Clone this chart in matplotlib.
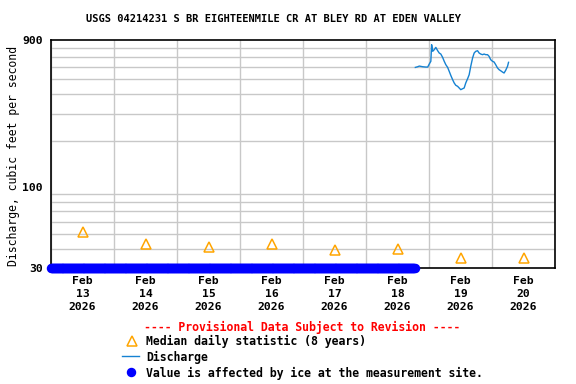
import numpy as np
import pandas as pd
import matplotlib
matplotlib.use("Agg")
import matplotlib.pyplot as plt
import matplotlib.dates as mdates
from matplotlib.lines import Line2D
from matplotlib.ticker import FixedLocator, NullFormatter

# ---- data ----
title = "USGS 04214231 S BR EIGHTEENMILE CR AT BLEY RD AT EDEN VALLEY"

# daily median statistic (8 years), plotted at noon of each day
median_days = ["2026-02-13", "2026-02-14", "2026-02-15", "2026-02-16",
               "2026-02-17", "2026-02-18", "2026-02-19", "2026-02-20"]
median_vals = [51, 43, 41, 43, 39.5, 40, 35, 35]

# discharge (cfs), hours after 2026-02-18 00:00
q_hours = [18.8, 19.7, 20.3, 21.6, 22.8, 23.5, 24.1, 24.7, 25.0, 25.4, 26.0,
           26.6, 27.3, 27.9, 28.5, 29.2, 29.8, 30.4, 31.1, 31.7, 32.3, 33.0,
           33.6, 34.2, 34.9, 35.5, 36.1, 36.8, 37.4, 38.0, 38.7, 39.3, 39.9,
           40.6, 41.2, 41.8, 42.5, 43.1, 43.7, 44.4, 45.0, 45.6, 46.3, 46.9,
           47.5, 48.2, 48.8, 49.4, 50.1, 50.7, 51.3, 52.0, 52.6, 53.2, 53.9,
           54.3]
q_vals = [598, 604, 610, 604, 601, 601, 629, 655, 839, 760, 779,
          806, 767, 741, 730, 694, 655, 623, 598, 564, 531, 498,
          474, 458, 451, 440, 429, 435, 440, 474, 505, 536, 607,
          688, 741, 760, 767, 741, 730, 723, 730, 723, 723, 705,
          671, 655, 648, 623, 593, 578, 569, 558, 550, 572, 607,
          645]

# ice-affected period (15-minute values shown on the axis floor)
ice_start = "2026-02-13 00:00"
ice_end = "2026-02-18 18:30"

ylim = (30, 900)
y_labels = [30, 100, 900]
y_grid = [40, 50, 60, 70, 80, 90, 100, 200, 300, 400, 500, 600, 700, 800]

# ---- plotting ----
FONT = "DejaVu Sans Mono"
plt.rcParams["font.family"] = FONT
plt.rcParams["font.weight"] = "bold"

W, H = 576, 384
fig = plt.figure(figsize=(W / 100, H / 100), dpi=100)
ax = fig.add_axes([51 / W, 1 - 268 / H, (555 - 51) / W, (268 - 40) / H])

base = pd.Timestamp("2026-02-18")
q_time = [base + pd.Timedelta(hours=h) for h in q_hours]
ax.plot(q_time, q_vals, color="#1582D2", lw=1.0, zorder=3)

med_time = [pd.Timestamp(d) + pd.Timedelta(hours=12) for d in median_days]
ax.plot(med_time, median_vals, linestyle="none", marker="^", ms=7.5,
        mfc="none", mec="#FFA500", mew=1.1, zorder=3)

ice_time = pd.date_range(ice_start, ice_end, freq="15min")
ax.plot(ice_time, [ylim[0]] * len(ice_time), linestyle="none", marker="o",
        ms=5.8, color="#0000FF", clip_on=False, zorder=4)

ax.set_yscale("log")
ax.set_ylim(*ylim)
ax.set_xlim(pd.Timestamp("2026-02-13"), pd.Timestamp("2026-02-21"))

ax.yaxis.set_major_locator(FixedLocator(y_labels))
ax.yaxis.set_minor_locator(FixedLocator(y_grid))
ax.yaxis.set_major_formatter(matplotlib.ticker.FuncFormatter(lambda v, p: f"{v:g}"))
ax.yaxis.set_minor_formatter(NullFormatter())

ax.xaxis.set_major_locator(FixedLocator(mdates.date2num(med_time)))
ax.xaxis.set_major_formatter(matplotlib.ticker.FuncFormatter(
    lambda v, p: mdates.num2date(v).strftime("%b\n%d\n%Y")))
ax.xaxis.set_minor_locator(mdates.DayLocator())

ax.grid(True, which="minor", color="#C8C8C8", lw=1.0)
ax.grid(False, which="major")
ax.tick_params(axis="both", which="both", length=0)
ax.tick_params(axis="x", pad=6, labelsize=8.2)
ax.tick_params(axis="y", pad=6, labelsize=8.2)
for lab in ax.get_xticklabels():
    lab.set_linespacing(1.35)
for sp in ax.spines.values():
    sp.set_linewidth(1.2)
    sp.set_color("black")

ax.set_ylabel("Discharge, cubic feet per second", fontsize=8.3)
ax.yaxis.set_label_coords(-0.061, 0.49)

fig.text(273 / W, 1 - 19 / H, title, ha="center", va="center", fontsize=7.5)

# legend drawn below the plot
fig.text(302 / W, 1 - 327 / H, "---- Provisional Data Subject to Revision ----",
         ha="center", va="center", color="#FF0000", fontsize=8.3)
tx = 146 / W
fig.text(tx, 1 - 341 / H, "Median daily statistic (8 years)", va="center", fontsize=8.3)
fig.text(tx, 1 - 357 / H, "Discharge", va="center", fontsize=8.3)
fig.text(tx, 1 - 373 / H, "Value is affected by ice at the measurement site.",
         va="center", fontsize=8.3)
fig.add_artist(Line2D([132 / W], [1 - 341 / H], marker="^", ms=7.5, mfc="none",
                      mec="#FFA500", mew=1.1, transform=fig.transFigure))
fig.add_artist(Line2D([122 / W, 139 / W], [1 - 356 / H] * 2, color="#1582D2",
                      lw=1.0, transform=fig.transFigure))
fig.add_artist(Line2D([131 / W], [1 - 372 / H], marker="o", ms=5.8,
                      color="#0000FF", transform=fig.transFigure))

fig.savefig("out.png", dpi=100)
